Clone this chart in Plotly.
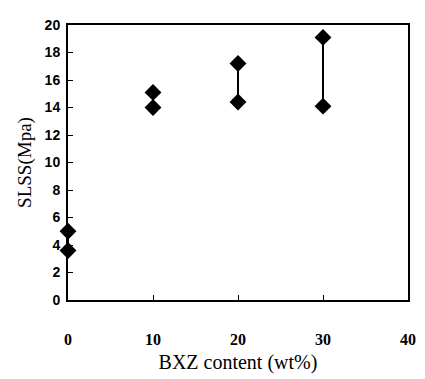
import plotly.graph_objects as go

bxz_content = [0, 10, 20, 30]
slss_low = [3.6, 14.0, 14.4, 14.1]
slss_high = [5.0, 15.1, 17.2, 19.1]
x_ticks = [0, 10, 20, 30, 40]
y_ticks = [0, 2, 4, 6, 8, 10, 12, 14, 16, 18, 20]

xs, ys = [], []
for x, lo, hi in zip(bxz_content, slss_low, slss_high):
    xs += [x, x, None]
    ys += [lo, hi, None]

fig = go.Figure()
fig.add_trace(go.Scatter(
    x=xs, y=ys, mode="lines+markers",
    line=dict(color="black", width=2),
    marker=dict(symbol="diamond", size=13, color="black"),
    cliponaxis=False, showlegend=False, connectgaps=False,
))

# page body has an 8px margin, so the figure is sized to compensate
fig.update_layout(
    width=417, height=371,
    margin=dict(l=60, r=9, t=10, b=75),
    paper_bgcolor="white", plot_bgcolor="white",
    xaxis=dict(
        range=[0, 40], tickvals=x_ticks, ticks="inside", ticklen=5,
        tickwidth=1, tickcolor="black",
        showline=True, linecolor="black", linewidth=2, mirror=True,
        showgrid=False, zeroline=False, ticklabelstandoff=24,
        tickfont=dict(family="Liberation Serif", size=16, color="black", weight="bold"),
        title=dict(text="BXZ content (wt%)", standoff=8,
                   font=dict(family="Liberation Serif", size=20, color="black")),
    ),
    yaxis=dict(
        range=[0, 20], tickvals=y_ticks, ticks="inside", ticklen=5,
        tickwidth=1, tickcolor="black",
        showline=True, linecolor="black", linewidth=2, mirror=True,
        showgrid=False, zeroline=False, ticklabelstandoff=3,
        tickfont=dict(family="Liberation Sans", size=14, color="black", weight="bold"),
        title=dict(text="SLSS(Mpa)", standoff=8,
                   font=dict(family="Liberation Serif", size=19, color="black")),
    ),
)

fig.write_html("out.html")
